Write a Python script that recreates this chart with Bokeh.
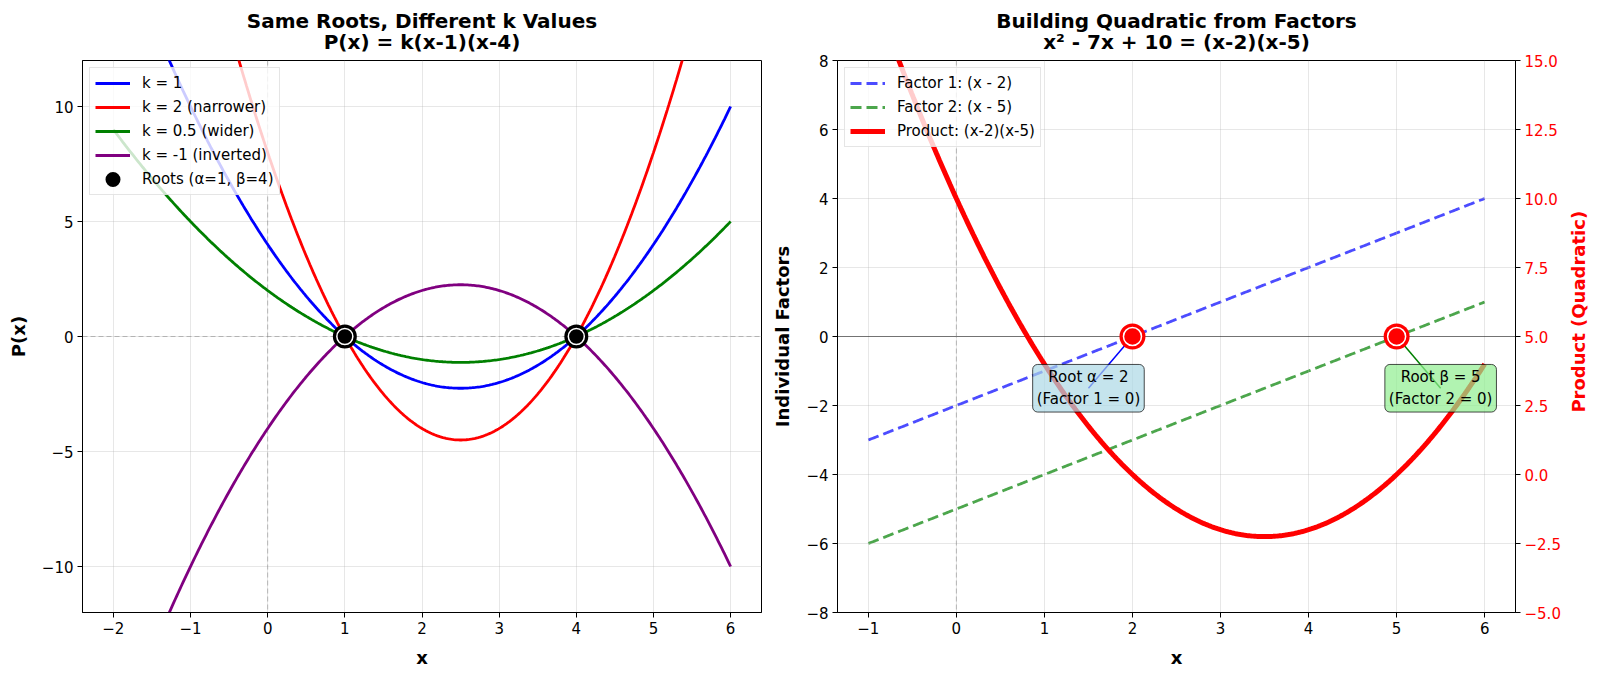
import numpy as np
from bokeh.plotting import figure
from bokeh.models import (Range1d, LinearAxis, Span, Label, Legend, LegendItem,
                          FixedTicker, CustomJSTickFormatter)
from bokeh.layouts import row, column
from bokeh.embed import file_html
from bokeh.resources import INLINE

FONT = "DejaVu Sans"

# ---- left panel: P(x) = k(x - alpha)(x - beta) ----
alpha_root, beta_root = 1, 4
k_values = [1, 2, 0.5, -1]
k_labels = ["k = 1", "k = 2 (narrower)", "k = 0.5 (wider)", "k = -1 (inverted)"]
k_colors = ["#0000ff", "#ff0000", "#008000", "#800080"]
left_x_start, left_x_end = -2, 6
left_xticks = [-2, -1, 0, 1, 2, 3, 4, 5, 6]
left_yticks = [-10, -5, 0, 5, 10]
left_title = ["Same Roots, Different k Values", "P(x) = k(x-1)(x-4)"]

# ---- right panel: factors (x - 2), (x - 5) and their product ----
factor_roots = [2, 5]
factor_labels = ["Factor 1: (x - 2)", "Factor 2: (x - 5)"]
factor_colors = ["#0000ff", "#008000"]
product_label = "Product: (x-2)(x-5)"
right_x_start, right_x_end = -1, 6
right_xticks = [-1, 0, 1, 2, 3, 4, 5, 6]
factor_yticks = [-8, -6, -4, -2, 0, 2, 4, 6, 8]
product_yticks = [-5.0, -2.5, 0.0, 2.5, 5.0, 7.5, 10.0, 12.5, 15.0]
right_title = ["Building Quadratic from Factors", "x\u00b2 - 7x + 10 = (x-2)(x-5)"]
product_axis_title = "Product (Quadratic)"

# root call-outs: text position and box colour
callout_text = ["Root \u03b1 = 2\n(Factor 1 = 0)", "Root \u03b2 = 5\n(Factor 2 = 0)"]
callout_xy = [(1.5, -1.5), (5.5, -1.5)]
callout_fill = ["#add8e6", "#90ee90"]
callout_line = ["#0000ff", "#008000"]

# ---- page geometry (pixels) ----
PAGE_W, PAGE_H = 1600, 676
TITLE_H = 52                       # strip holding the two-line titles
PLOT_H = PAGE_H - TITLE_H
BORDER_TOP, BORDER_BOTTOM = 8, 64
L_W, L_BL, L_BR = 765, 82, 4       # left figure: width, left / right borders
R_W, R_BL, R_BR = 800, 72, 50      # right figure
SIDE_W = PAGE_W - L_W - R_W        # strip for the right-hand axis title
L_FRAME_W = L_W - L_BL - L_BR
R_FRAME_W = R_W - R_BL - R_BR
FRAME_H = PLOT_H - BORDER_TOP - BORDER_BOTTOM

int_fmt = CustomJSTickFormatter(
    code="return (tick < 0 ? '\\u2212' : '') + Math.abs(tick).toString();")
dec_fmt = CustomJSTickFormatter(
    code="return (tick < 0 ? '\\u2212' : '') + Math.abs(tick).toFixed(1);")


def style_axis(ax, color="black"):
    ax.major_label_text_font = FONT
    ax.major_label_text_font_size = "15px"
    ax.major_label_text_color = color
    ax.axis_label_text_font = FONT
    ax.axis_label_text_font_size = "18px"
    ax.axis_label_text_font_style = "bold"
    ax.axis_label_text_color = color
    ax.axis_line_color = "black"
    ax.major_tick_line_color = "black"
    ax.major_tick_out = 5
    ax.major_tick_in = 0
    ax.minor_tick_out = 0
    ax.minor_tick_in = 0
    ax.major_label_standoff = 4
    ax.axis_label_standoff = 10


def style_fig(p):
    p.outline_line_color = "black"
    p.outline_line_alpha = 1.0
    p.outline_line_width = 1
    p.grid.grid_line_color = "#b0b0b0"
    p.grid.grid_line_alpha = 0.3
    for ax in p.xaxis + p.yaxis:
        style_axis(ax)


def blank_strip(w, h):
    # plain canvas whose data units are pixels, used for free-standing text
    s = figure(width=w, height=h, output_backend="svg", toolbar_location=None,
               x_range=Range1d(0, w), y_range=Range1d(0, h), title=None,
               x_axis_location=None, y_axis_location=None,
               min_border_left=0, min_border_right=0, min_border_top=0, min_border_bottom=0)
    s.grid.visible = False
    s.outline_line_color = None
    return s


def legend_for(items, fig, level="annotation"):
    lg = Legend(items=items, location="top_left", margin=7, padding=5, spacing=4,
                glyph_width=35, glyph_height=20, label_height=20, label_standoff=12,
                label_text_font=FONT, label_text_font_size="15px", label_text_color="black",
                background_fill_color="white", background_fill_alpha=0.8,
                border_line_color="#cccccc", border_line_width=1, level=level)
    fig.add_layout(lg)
    return lg


# ================= title strip =================
titles = blank_strip(PAGE_W, TITLE_H)
for lines, cx in [(left_title, L_BL + L_FRAME_W / 2), (right_title, L_W + R_BL + R_FRAME_W / 2)]:
    for text, top in zip(lines, [20, 41]):
        titles.add_layout(Label(x=cx, y=TITLE_H - top, text=text, text_align="center",
                                text_baseline="middle", text_font=FONT,
                                text_font_size="20px", text_font_style="bold",
                                text_color="black"))

# ================= left figure =================
p1 = figure(width=L_W, height=PLOT_H, output_backend="svg", toolbar_location=None,
            x_range=Range1d(-2.4, 6.4), y_range=Range1d(-12, 12), title=None,
            min_border_left=L_BL, min_border_right=L_BR,
            min_border_top=BORDER_TOP, min_border_bottom=BORDER_BOTTOM)
p1.xaxis.axis_label = "x"
p1.yaxis.axis_label = "P(x)"
p1.xaxis.ticker = FixedTicker(ticks=left_xticks)
p1.yaxis.ticker = FixedTicker(ticks=left_yticks)
p1.xaxis.formatter = int_fmt
p1.yaxis.formatter = int_fmt
style_fig(p1)

for loc, dim in [(0, "width"), (0, "height")]:
    p1.add_layout(Span(location=loc, dimension=dim, line_color="gray", line_alpha=0.5,
                       line_dash="5 3", line_width=1, level="underlay"))

xs_left = np.linspace(left_x_start, left_x_end, 400)
left_items = []
for k, lab, col in zip(k_values, k_labels, k_colors):
    r = p1.line(xs_left, k * (xs_left - alpha_root) * (xs_left - beta_root),
                line_color=col, line_width=2.8)
    left_items.append(LegendItem(label=lab, renderers=[r]))

roots_x = [alpha_root, beta_root]
p1.scatter(roots_x, [0, 0], size=24, fill_color="black", line_color=None)
p1.scatter(roots_x, [0, 0], size=16, fill_color="black", line_color="white", line_width=1.5)
# legend swatch for the root markers
roots_swatch = p1.scatter([np.nan], [np.nan], size=8, fill_color="black",
                          line_color="black", line_width=7)
left_items.append(LegendItem(label="Roots (\u03b1=1, \u03b2=4)", renderers=[roots_swatch]))
legend_for(left_items, p1)

# ================= right figure =================
p2 = figure(width=R_W, height=PLOT_H, output_backend="svg", toolbar_location=None,
            x_range=Range1d(-1.35, 6.35), y_range=Range1d(-8, 8), title=None,
            min_border_left=R_BL, min_border_right=R_BR,
            min_border_top=BORDER_TOP, min_border_bottom=BORDER_BOTTOM)
p2.extra_y_ranges = {"prod": Range1d(-5, 15)}
p2.xaxis.axis_label = "x"
p2.yaxis.axis_label = "Individual Factors"
p2.xaxis.ticker = FixedTicker(ticks=right_xticks)
p2.yaxis.ticker = FixedTicker(ticks=factor_yticks)
p2.xaxis.formatter = int_fmt
p2.yaxis.formatter = int_fmt
style_fig(p2)

prod_axis = LinearAxis(y_range_name="prod", ticker=FixedTicker(ticks=product_yticks),
                       formatter=dec_fmt)
style_axis(prod_axis, color="#ff0000")
p2.add_layout(prod_axis, "right")

p2.add_layout(Span(location=0, dimension="width", line_color="black", line_alpha=0.5,
                   line_width=1, level="underlay"))
p2.add_layout(Span(location=0, dimension="height", line_color="gray", line_alpha=0.5,
                   line_dash="5 3", line_width=1, level="underlay"))

xs_right = np.linspace(right_x_start, right_x_end, 400)
right_items = []
for root, lab, col in zip(factor_roots, factor_labels, factor_colors):
    r = p2.line(xs_right, xs_right - root, line_color=col, line_alpha=0.7,
                line_width=2.8, line_dash="11 5", level="underlay")
    right_items.append(LegendItem(label=lab, renderers=[r]))

# call-out leader lines, boxes drawn over them
for (tx, ty), root, col in zip(callout_xy, factor_roots, callout_line):
    p2.line([tx, root], [ty, 0], line_color=col, line_width=1.5, level="underlay")

p2.scatter(factor_roots, [0, 0], size=26, fill_color="#ff0000", line_color=None)
p2.scatter(factor_roots, [0, 0], size=18, fill_color="#ff0000", line_color="white",
           line_width=1.5)

for txt, (tx, ty), fill in zip(callout_text, callout_xy, callout_fill):
    p2.add_layout(Label(x=tx, y=ty, text=txt, text_align="center", text_baseline="middle",
                        text_font=FONT, text_font_size="15px", text_color="black",
                        background_fill_color=fill, background_fill_alpha=0.7,
                        border_line_color="black", border_line_alpha=0.7, border_line_width=1,
                        padding=4, border_radius=5, level="glyph"))

prod_r = p2.line(xs_right, (xs_right - factor_roots[0]) * (xs_right - factor_roots[1]),
                 y_range_name="prod", line_color="#ff0000", line_width=5)
right_items.append(LegendItem(label=product_label, renderers=[prod_r]))
legend_for(right_items, p2, level="glyph")

# ================= right-hand axis title strip =================
side = blank_strip(SIDE_W, PLOT_H)
side.add_layout(Label(x=13, y=BORDER_BOTTOM + FRAME_H / 2, angle=np.pi / 2,
                      text=product_axis_title, text_align="center", text_baseline="middle",
                      text_font=FONT, text_font_size="18px", text_font_style="bold",
                      text_color="#ff0000"))

layout = column(titles, row(p1, p2, side))
with open("out.html", "w", encoding="utf-8") as f:
    f.write(file_html(layout, INLINE))
